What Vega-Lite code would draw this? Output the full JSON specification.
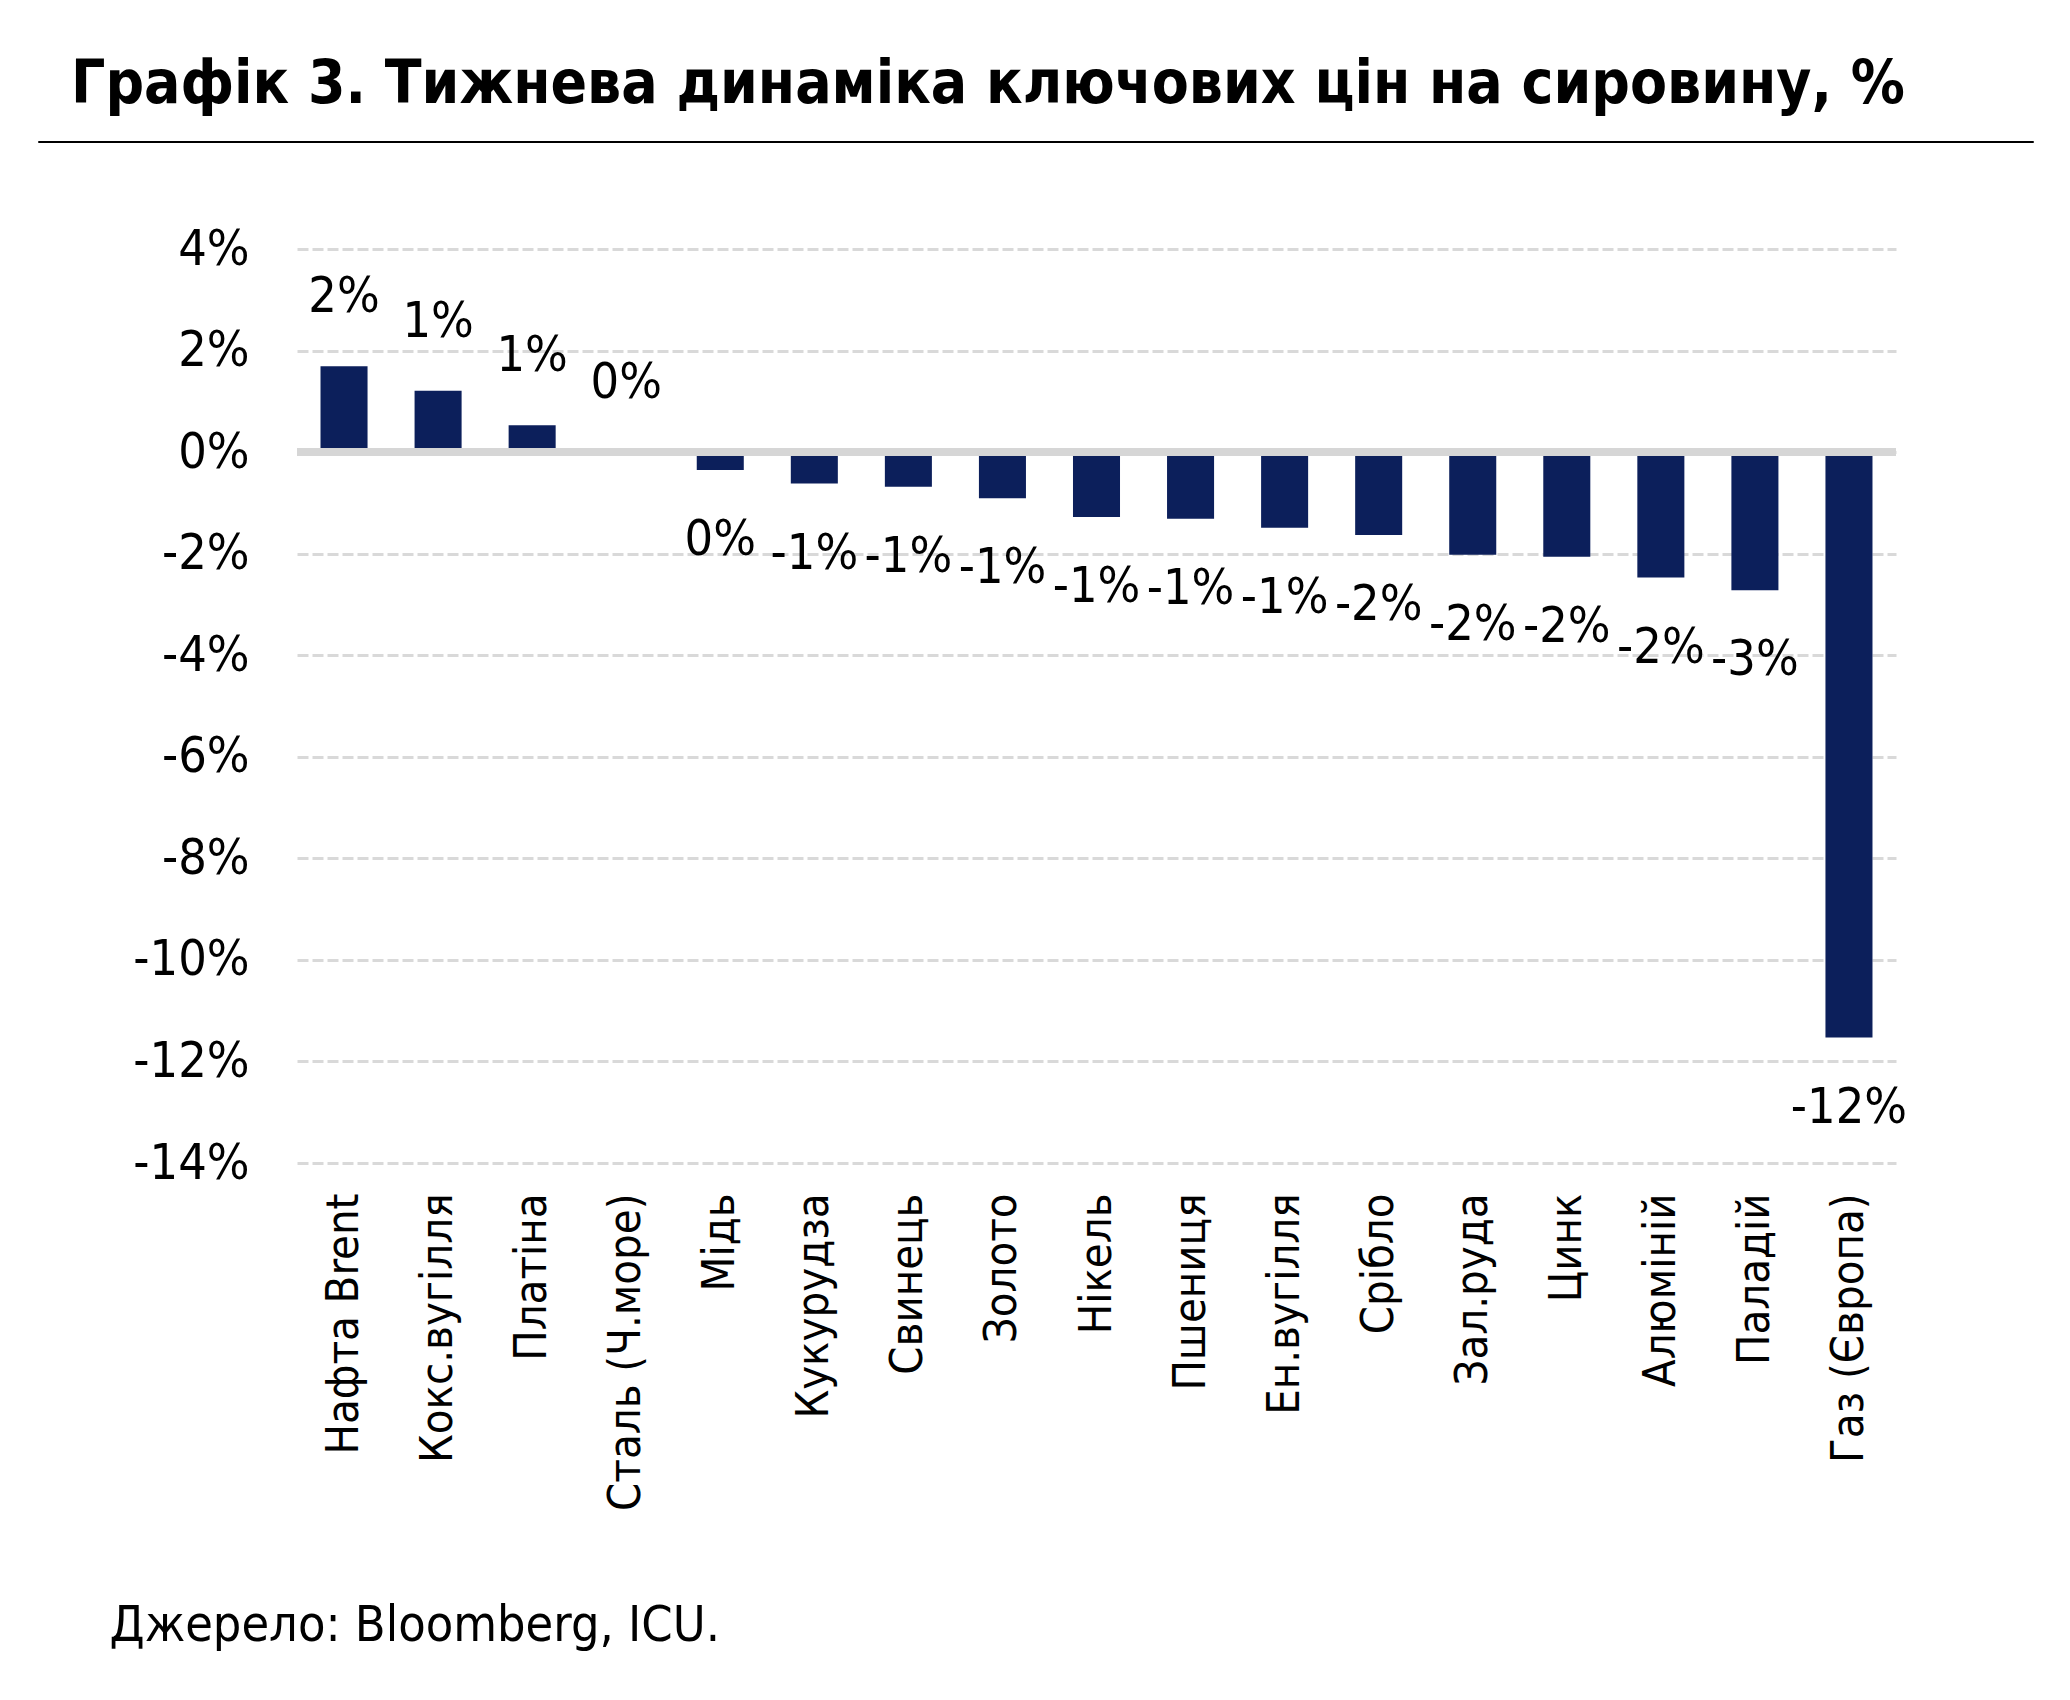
{
  "$schema": "https://vega.github.io/schema/vega-lite/v6.json",
  "autosize": {"type": "pad"},
  "padding": {"left": 37, "top": 54, "right": 38, "bottom": 10},
  "spacing": 81,
  "config": {
    "locale": {"number": {"decimal": ".", "thousands": ",", "grouping": [3], "currency": ["", ""], "minus": "-"}},
    "font": "Liberation Sans Narrow, Arial Narrow, DejaVu Sans Condensed, sans-serif",
    "view": {"stroke": null},
    "axisX": {
      "labelAngle": -90,
      "labelFontSize": 45,
      "labelPadding": 30,
      "labelColor": "black",
      "labelLimit": 0,
      "domain": false,
      "ticks": false,
      "titleFontSize": 50,
      "titleFontWeight": "normal",
      "titleColor": "black",
      "titleAnchor": "start",
      "titleAlign": "left",
      "titleBaseline": "alphabetic",
      "titleX": -188,
      "titleY": 477
    }
  },
  "datasets": {
    "commodities": [
      {"name": "Нафта Brent", "value": 0.0169},
      {"name": "Кокс.вугілля", "value": 0.0121},
      {"name": "Платіна", "value": 0.0053},
      {"name": "Сталь (Ч.море)", "value": 0.0},
      {"name": "Мідь", "value": -0.0035},
      {"name": "Кукурудза", "value": -0.0062},
      {"name": "Свинець", "value": -0.0068},
      {"name": "Золото", "value": -0.0091},
      {"name": "Нікель", "value": -0.0128},
      {"name": "Пшениця", "value": -0.0131},
      {"name": "Ен.вугілля", "value": -0.0149},
      {"name": "Срібло", "value": -0.0163},
      {"name": "Зал.руда", "value": -0.0202},
      {"name": "Цинк", "value": -0.0206},
      {"name": "Алюміній", "value": -0.0247},
      {"name": "Паладій", "value": -0.0272},
      {"name": "Газ (Європа)", "value": -0.1153}
    ]
  },
  "vconcat": [
    {
      "title": {
        "text": "Графік 3. Тижнева динаміка ключових цін на сировину, %",
        "anchor": "start",
        "frame": "group",
        "dx": 33,
        "fontSize": 60,
        "fontWeight": "bold",
        "color": "black",
        "baseline": "alphabetic",
        "offset": -22
      },
      "width": 1995,
      "height": 1,
      "view": {"stroke": "black", "strokeWidth": 1},
      "data": {"values": []},
      "mark": "text",
      "encoding": {}
    },
    {
      "spacing": 0,
      "hconcat": [
        {
          "width": 1,
          "height": 914,
          "data": {"values": []},
          "mark": "text",
          "encoding": {}
        },
        {
          "width": 1599,
          "height": 914,
          "data": {"name": "commodities"},
          "layer": [
            {
              "mark": {"type": "bar", "color": "#0c1f5b"},
              "encoding": {
                "x": {
                  "field": "name",
                  "type": "nominal",
                  "sort": null,
                  "title": "Джерело: Bloomberg, ICU.",
                  "scale": {"paddingInner": 0.5, "paddingOuter": 0.25}
                },
                "y": {
                  "field": "value",
                  "type": "quantitative",
                  "scale": {"domain": [-0.14, 0.04], "nice": false, "zero": false},
                  "axis": {
                    "title": null,
                    "format": ".0%",
                    "values": [-0.14, -0.12, -0.1, -0.08, -0.06, -0.04, -0.02, 0, 0.02, 0.04],
                    "labelFontSize": 50,
                    "labelPadding": 48,
                    "labelColor": "black",
                    "domain": false,
                    "ticks": false,
                    "grid": true,
                    "gridColor": "#d9d9d9",
                    "gridDash": [11, 4],
                    "gridWidth": 3,
                    "minExtent": 258
                  }
                }
              }
            },
            {
              "mark": {"type": "rule", "color": "#d6d6d6", "strokeWidth": 7},
              "encoding": {"y": {"datum": 0}}
            },
            {
              "transform": [{"filter": "datum.value >= 0"}],
              "mark": {"type": "text", "fontSize": 50, "color": "black", "baseline": "middle", "dy": -69},
              "encoding": {
                "x": {"field": "name", "type": "nominal", "sort": null, "title": "Джерело: Bloomberg, ICU."},
                "y": {"field": "value", "type": "quantitative", "title": null},
                "text": {"field": "value", "type": "quantitative", "format": ".0%"}
              }
            },
            {
              "transform": [{"filter": "datum.value < 0"}],
              "mark": {"type": "text", "fontSize": 50, "color": "black", "baseline": "middle", "dy": 70},
              "encoding": {
                "x": {"field": "name", "type": "nominal", "sort": null, "title": "Джерело: Bloomberg, ICU."},
                "y": {"field": "value", "type": "quantitative", "title": null},
                "text": {"field": "value", "type": "quantitative", "format": ".0%"}
              }
            }
          ]
        }
      ]
    }
  ]
}
